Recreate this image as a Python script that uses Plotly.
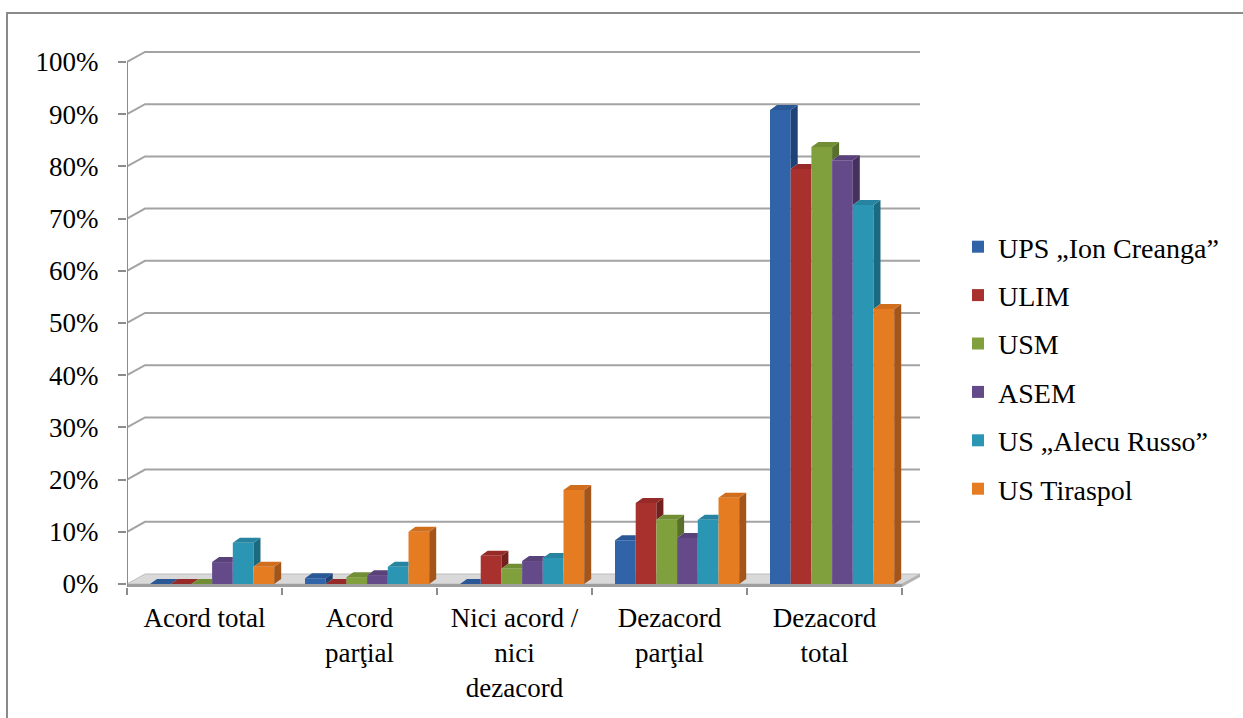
import plotly.graph_objects as go

# ---- data -------------------------------------------------------------
categories = ["Acord total", "Acord<br>parţial", "Nici acord /<br>nici<br>dezacord",
              "Dezacord<br>parţial", "Dezacord<br>total"]
series_names = ["UPS „Ion Creanga”", "ULIM", "USM", "ASEM", "US „Alecu Russo”", "US Tiraspol"]

ups_ion_creanga = [0.0, 1.1, 0.0, 8.4, 90.8]
ulim = [0.0, 0.0, 5.4, 15.5, 79.5]
usm = [0.0, 1.3, 2.9, 12.3, 83.7]
asem = [4.2, 1.7, 4.4, 8.8, 81.2]
us_alecu_russo = [7.9, 3.3, 5.0, 12.3, 72.6]
us_tiraspol = [3.3, 10.0, 18.0, 16.5, 52.7]

series_values = [ups_ion_creanga, ulim, usm, asem, us_alecu_russo, us_tiraspol]

y_ticks = list(range(0, 101, 10))

# ---- styling ------------------------------------------------------------
front_colors = ["#3063A8", "#A8312E", "#80A03D", "#654A89", "#2B95B4", "#E67C22"]
top_colors = ["#2A5896", "#962A28", "#728E35", "#59417A", "#2684A0", "#D06E1D"]
side_colors = ["#1F4377", "#74201E", "#58702A", "#45305E", "#1C6A80", "#A4551A"]

FONT = "Liberation Serif, Times New Roman, serif"
GRID = "#A3A3A3"
AXIS = "#8C8C8C"

W, H = 1243, 718
L, R, T, B = 127, 925, 40, 587
PX_X = 155.0          # pixels per category
PX_Y = 5.22           # pixels per percent
ZERO_PX = 584         # pixel row of the 0 % level on the front plane

x_min = -0.5
x_max = x_min + (R - L) / PX_X
y_min = -(B - ZERO_PX) / PX_Y
y_max = (ZERO_PX - T) / PX_Y

bar_w = 20.7 / PX_X
group_start = -54.5 / PX_X
bar_dx, bar_dy = 7 / PX_X, 5 / PX_Y          # depth of a column
wall_dx, wall_dy = 18 / PX_X, 10 / PX_Y       # depth of the floor / back wall

n_cat = len(categories)
fig = go.Figure()

# front faces of the columns
for i, (name, vals) in enumerate(zip(series_names, series_values)):
    fig.add_trace(go.Bar(
        x=list(range(n_cat)), y=vals, name=name,
        width=bar_w, offset=group_start + i * bar_w,
        marker=dict(color=front_colors[i], line=dict(width=0)),
        legendgroup=name, hoverinfo="skip",
    ))


def add_poly(xs, ys, polys):
    for px, py in polys:
        xs.extend(px + [px[0], None])
        ys.extend(py + [py[0], None])


# side and top faces, hidden parts removed where the next column covers them
for i, vals in enumerate(series_values):
    side_x, side_y, top_x, top_y = [], [], [], []
    for c in range(n_cat):
        v = vals[c]
        vn = series_values[i + 1][c] if i + 1 < len(series_values) else 0.0
        left = c + group_start + i * bar_w
        right = left + bar_w
        if v > vn:
            add_poly(side_x, side_y, [(
                [right, right + bar_dx, right + bar_dx, right],
                [vn, vn + bar_dy, v + bar_dy, v])])
        if vn <= v:
            tx = [left, left + bar_dx, right + bar_dx, right]
            ty = [v, v + bar_dy, v + bar_dy, v]
        elif vn < v + bar_dy:
            cut = right + bar_dx * (v + bar_dy - vn) / bar_dy
            tx = [left, left + bar_dx, cut, right, right]
            ty = [v, v + bar_dy, v + bar_dy, vn, v]
        else:
            tx = [left, left + bar_dx, right, right]
            ty = [v, v + bar_dy, v + bar_dy, v]
        add_poly(top_x, top_y, [(tx, ty)])
    for xs, ys, col in ((side_x, side_y, side_colors[i]), (top_x, top_y, top_colors[i])):
        if xs:
            fig.add_trace(go.Scatter(
                x=xs, y=ys, mode="lines", fill="toself", fillcolor=col,
                line=dict(width=0, color=col), showlegend=False, hoverinfo="skip",
            ))

shapes = []
# floor of the 3-D plot area
shapes.append(dict(type="path", xref="x", yref="y", layer="below",
                   path=f"M {x_min},0 L {x_min + wall_dx},{wall_dy} L {n_cat - 0.5 + wall_dx},{wall_dy} "
                        f"L {n_cat - 0.5},0 Z",
                   fillcolor="#D9D9D9", line=dict(color="#BDBDBD", width=1)))
shapes.append(dict(type="path", xref="x", yref="y", layer="below",
                   path=f"M {x_min},0 L {n_cat - 0.5},0 L {n_cat - 0.5},{y_min} L {x_min},{y_min} Z",
                   fillcolor="#9E9E9E", line=dict(width=0)))
shapes.append(dict(type="path", xref="x", yref="y", layer="below",
                   path=f"M {n_cat - 0.5},0 L {n_cat - 0.5 + wall_dx},{wall_dy} "
                        f"L {n_cat - 0.5 + wall_dx},{wall_dy + y_min} L {n_cat - 0.5},{y_min} Z",
                   fillcolor="#B3B3B3", line=dict(width=0)))
# back-wall gridlines with their short diagonal from the front axis
for g in y_ticks[1:]:
    shapes.append(dict(type="path", xref="x", yref="y", layer="below",
                       path=f"M {x_min},{g} L {x_min + wall_dx},{g + wall_dy} "
                            f"L {n_cat - 0.5 + wall_dx},{g + wall_dy}",
                       line=dict(color=GRID, width=2)))
# front vertical axis
shapes.append(dict(type="line", xref="x", yref="y", x0=x_min, x1=x_min, y0=y_min, y1=y_ticks[-1],
                   line=dict(color=AXIS, width=2)))
# outer chart border
shapes.append(dict(type="rect", xref="paper", yref="paper",
                   x0=(7 - L) / (R - L), x1=(W + 10 - L) / (R - L),
                   y0=(B - (H + 10)) / (B - T), y1=(B - 13) / (B - T),
                   line=dict(color="#8A8A8A", width=2), fillcolor="rgba(0,0,0,0)"))

fig.update_layout(
    width=W, height=H,
    margin=dict(l=L, r=W - R, t=T, b=H - B, pad=0),
    paper_bgcolor="white", plot_bgcolor="white",
    barmode="overlay",
    font=dict(family=FONT, size=27, color="black"),
    shapes=shapes,
    showlegend=True,
    legend=dict(x=(958 - L) / (R - L), xanchor="left", y=(B - 222) / (B - T), yanchor="top",
                font=dict(family=FONT, size=28, color="black"),
                bgcolor="rgba(0,0,0,0)", traceorder="grouped", tracegroupgap=9,
                borderwidth=0),
    xaxis=dict(range=[x_min, x_max], tickmode="array", tickvals=list(range(n_cat)),
               ticktext=categories, ticks="", showgrid=False, zeroline=False, showline=False,
               ticklabelstandoff=12,
               minor=dict(tickmode="linear", tick0=-0.5, dtick=1, ticks="outside",
                          ticklen=7, tickwidth=2, tickcolor=AXIS, showgrid=False),
               tickfont=dict(family=FONT, size=27, color="black"), fixedrange=True),
    yaxis=dict(range=[y_min, y_max], tickmode="array", tickvals=y_ticks,
               ticktext=[f"{t}%" for t in y_ticks], ticks="outside", ticklen=8, tickwidth=2,
               tickcolor=AXIS, showgrid=False, zeroline=False, showline=False,
               ticklabelstandoff=14,
               tickfont=dict(family=FONT, size=27, color="black"), fixedrange=True),
)

fig.write_html("out.html")
